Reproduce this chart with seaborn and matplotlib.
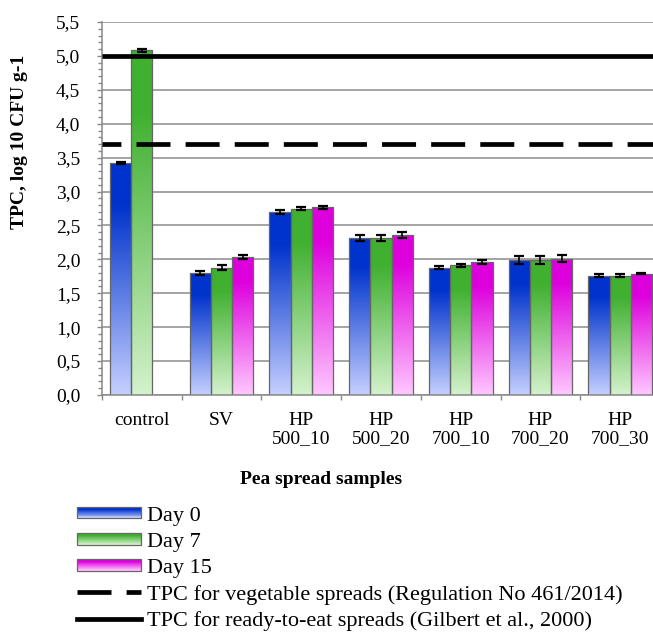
import numpy as np
import pandas as pd
import matplotlib
matplotlib.use("Agg")
import matplotlib.pyplot as plt
import seaborn as sns
from matplotlib.patches import Rectangle
from matplotlib.lines import Line2D
from matplotlib.legend_handler import HandlerBase
from matplotlib.ticker import MultipleLocator, FixedLocator, FuncFormatter
from matplotlib.colors import to_rgb

# TPC counts (log10 CFU/g) of pea spreads during storage
samples = ["control", "SV", "HP\n500_10", "HP\n500_20", "HP\n700_10", "HP\n700_20", "HP\n700_30"]
days = ["Day 0", "Day 7", "Day 15"]
day0 = [3.42, 1.80, 2.70, 2.31, 1.88, 1.99, 1.76]
day7 = [5.08, 1.88, 2.75, 2.32, 1.91, 1.99, 1.76]
day15 = [None, 2.04, 2.77, 2.36, 1.96, 2.01, 1.79]
err0 = [0.02, 0.035, 0.025, 0.045, 0.025, 0.055, 0.02]
err7 = [0.02, 0.035, 0.02, 0.045, 0.025, 0.055, 0.02]
err15 = [None, 0.03, 0.02, 0.045, 0.025, 0.055, 0.012]

# microbiological limits
limit_veg = 3.7   # vegetable spreads (Regulation No 461/2014)
limit_rte = 5.0   # ready-to-eat spreads (Gilbert et al., 2000)
limit_labels = ["TPC for vegetable spreads (Regulation No 461/2014)",
                "TPC for ready-to-eat spreads (Gilbert et al., 2000)"]

# gradient end colours per day: (dark top, light bottom)
grad = {
    "Day 0": ("#0033CC", "#C6D0FF"),
    "Day 7": ("#40B030", "#D4F2CC"),
    "Day 15": ("#DD00DD", "#FFC8FF"),
}

rows = []
for day, vals, errs in zip(days, [day0, day7, day15], [err0, err7, err15]):
    for s, v, e in zip(samples, vals, errs):
        if v is not None:
            rows.append({"sample": s, "day": day, "value": v, "err": e})
df = pd.DataFrame(rows)

FS = 14
LFS = 16
plt.rcParams["font.family"] = ["Liberation Serif", "DejaVu Serif"]
plt.rcParams["font.size"] = FS

W, H = 653, 637
fig = plt.figure(figsize=(W / 100, H / 100), dpi=100)
ax = fig.add_axes([102 / W, 242 / H, 558 / W, 373 / H])

sns.barplot(data=df, x="sample", y="value", hue="day", order=samples,
            hue_order=days, palette={d: grad[d][0] for d in days},
            errorbar=None, width=0.8, saturation=1, legend=False,
            edgecolor="#666666", linewidth=0.9, ax=ax)


def gradient_array(dark, light, n=256):
    t = np.linspace(0, 1, n)  # 0 bottom, 1 top
    f = np.clip(t / 0.82, 0, 1)[:, None]
    d = np.array(to_rgb(dark))
    l = np.array(to_rgb(light))
    return (l + (d - l) * f)[:, None, :]


err_lookup = {(r["sample"], r["day"]): r["err"] for r in rows}

for day, cont in zip(days, ax.containers):
    img = gradient_array(*grad[day])
    for bar in cont:
        x0, w, h = bar.get_x(), bar.get_width(), bar.get_height()
        bar.set_facecolor("none")
        bar.set_zorder(2)
        im = ax.imshow(img, extent=[x0, x0 + w, 0, h], origin="lower",
                       aspect="auto", zorder=1.9, interpolation="bilinear")
        im.set_clip_path(bar)
        xc = x0 + w / 2
        e = err_lookup[(samples[int(round(xc))], day)]
        ax.errorbar(xc, h, yerr=e, fmt="none", ecolor="black",
                    elinewidth=1.2, capsize=3.6, capthick=1.6, zorder=6)

ax.axhline(limit_rte, color="black", lw=3.4, zorder=5, solid_capstyle="butt")
ax.axhline(limit_veg, color="black", lw=3.4, zorder=5,
           linestyle=(3.2, (7.2, 3.2)), dash_capstyle="butt")

ax.set_xlim(-0.5, len(samples) - 0.5)
ax.set_ylim(0, 5.5)

grey = "#888888"
ax.set_axisbelow(True)
ax.yaxis.grid(True, color="#8c8c8c", lw=1.1, zorder=0)
ax.xaxis.grid(False)
for side in ["top", "right"]:
    ax.spines[side].set_visible(False)
for side in ["left", "bottom"]:
    ax.spines[side].set_color(grey)
    ax.spines[side].set_linewidth(1.1)

ax.yaxis.set_major_locator(MultipleLocator(0.5))
ax.yaxis.set_minor_locator(MultipleLocator(0.1))
ax.yaxis.set_major_formatter(FuncFormatter(lambda v, p: f"{v:.1f}".replace(".", ",")))
ax.tick_params(axis="y", which="major", length=3.6, width=1, color=grey, pad=12, labelsize=FS)
ax.tick_params(axis="y", which="minor", length=2.9, width=1, color=grey)

ax.set_xticks(range(len(samples)))
ax.set_xticklabels(samples, linespacing=1.15)
ax.xaxis.set_minor_locator(FixedLocator(np.arange(-0.5, len(samples), 1.0)))
ax.tick_params(axis="x", which="major", length=0, pad=12, labelsize=FS)
ax.tick_params(axis="x", which="minor", length=3.6, width=1, color=grey)

ax.set_xlabel("")
ax.set_ylabel("")
fig.text(20 / W, 1 - 142 / H, "TPC, log 10 CFU g-1", rotation=90, ha="center",
         va="center", fontweight="bold", fontsize=FS)
fig.text(321 / W, 1 - 480 / H, "Pea spread samples", ha="center", va="center",
         fontweight="bold", fontsize=FS)


class GradientHandler(HandlerBase):
    def __init__(self, dark, light):
        super().__init__()
        self.dark, self.light = dark, light

    def create_artists(self, legend, orig_handle, xdescent, ydescent, width,
                       height, fontsize, trans):
        arr = gradient_array(self.dark, self.light, n=12)[:, 0, :]
        hh = height * 0.85
        y0 = -ydescent + (height - hh) / 2
        n = len(arr)
        arts = []
        for i, c in enumerate(arr):
            arts.append(Rectangle((-xdescent, y0 + hh * i / n), width, hh / n + 0.3,
                                  facecolor=c, edgecolor="none", transform=trans))
        arts.append(Rectangle((-xdescent, y0), width, hh, facecolor="none",
                              edgecolor="#666666", lw=0.9, transform=trans))
        return arts


handles = [Rectangle((0, 0), 1, 1) for _ in days]
handles += [Line2D([], [], color="black", lw=3.4, linestyle=(0, (7.2, 3.2))),
            Line2D([], [], color="black", lw=3.4)]
labels = days + limit_labels
hmap = {h: GradientHandler(*grad[d]) for h, d in zip(handles[:3], days)}
fig.legend(handles, labels, handler_map=hmap, loc="upper left",
           bbox_to_anchor=(77 / W, 1 - 506 / H), frameon=False, fontsize=LFS,
           handlelength=2.9, handleheight=0.55, handletextpad=0.27,
           labelspacing=0.3, borderaxespad=0, borderpad=0)

fig.savefig("out.png", dpi=100)
